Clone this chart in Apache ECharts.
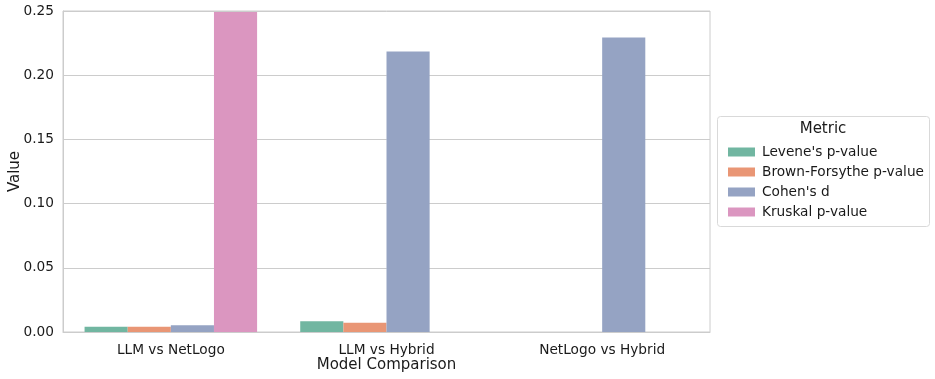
<!DOCTYPE html>
<html>
<head>
<meta charset="utf-8">
<script src="https://cdn.jsdelivr.net/npm/echarts@6/dist/echarts.min.js"></script>
<style>html,body{margin:0;padding:0;background:#fff}#c{width:935px;height:379px}</style>
</head>
<body>
<div id="c"></div>
<script>
const categories = ["LLM vs NetLogo", "LLM vs Hybrid", "NetLogo vs Hybrid"];
const seriesNames = ["Levene's p-value", "Brown-Forsythe p-value", "Cohen's d", "Kruskal p-value"];
const levene = [0.0041, 0.0083, 0.0];
const brownForsythe = [0.0041, 0.0072, 0.0];
const cohensD = [0.0052, 0.2185, 0.2294];
const kruskal = [0.2492, 0.0, 0.0];
const yTicks = [0, 0.05, 0.10, 0.15, 0.20, 0.25];

const colors = ['#71b6a1', '#e99675', '#95a3c3', '#db96c0'];
const values = [levene, brownForsythe, cohensD, kruskal];
const FONT = 'DejaVu Sans';

const chart = echarts.init(document.getElementById('c'), null, {renderer: 'canvas'});
chart.setOption({
  animation: false,
  textStyle: {fontFamily: FONT},
  grid: {left: 63, right: 225, top: 11, bottom: 47, show: true, borderColor: '#cccccc', borderWidth: 1,
    containLabel: false, outerBoundsMode: 'none'},
  xAxis: {
    type: 'category',
    data: categories,
    name: 'Model Comparison',
    nameLocation: 'middle',
    nameMoveOverlap: false,
    nameGap: 26,
    nameTextStyle: {fontSize: 15, color: '#1a1a1a', fontFamily: FONT},
    axisTick: {show: false},
    axisLine: {lineStyle: {color: '#cccccc', width: 1}},
    axisLabel: {fontSize: 13.7, color: '#1a1a1a', margin: 11, fontFamily: FONT}
  },
  yAxis: {
    type: 'value',
    min: yTicks[0],
    max: yTicks[yTicks.length - 1],
    interval: 0.05,
    name: 'Value',
    nameLocation: 'middle',
    nameMoveOverlap: false,
    nameGap: 40,
    nameTextStyle: {fontSize: 15, color: '#1a1a1a', fontFamily: FONT},
    axisLine: {show: true, lineStyle: {color: '#cccccc', width: 1}},
    axisTick: {show: false},
    splitLine: {lineStyle: {color: '#cccccc', width: 1}},
    axisLabel: {fontSize: 13.7, color: '#1a1a1a', margin: 9, fontFamily: FONT,
      formatter: v => v.toFixed(2)}
  },
  legend: {
    orient: 'vertical',
    left: 723,
    top: 139,
    itemWidth: 27,
    itemHeight: 9,
    itemGap: 4,
    icon: 'rect',
    data: seriesNames,
    textStyle: {fontSize: 13.7, color: '#1a1a1a', fontFamily: FONT, lineHeight: 16, padding: [0, 0, 0, 2]}
  },
  graphic: [
    {type: 'rect', left: 717, top: 116, shape: {width: 212, height: 110, r: 3},
      style: {fill: '#ffffff', stroke: '#d9d9d9', lineWidth: 1}, z: -1},
    {type: 'text', x: 823, y: 122,
      style: {text: 'Metric', fontSize: 15, fill: '#1a1a1a', fontFamily: FONT, align: 'center', verticalAlign: 'top'}}
  ],
  series: seriesNames.map((n, i) => ({
    name: n,
    type: 'bar',
    data: values[i],
    barGap: '0%',
    barCategoryGap: '20%',
    itemStyle: {color: colors[i]}
  }))
});
</script>
</body>
</html>
